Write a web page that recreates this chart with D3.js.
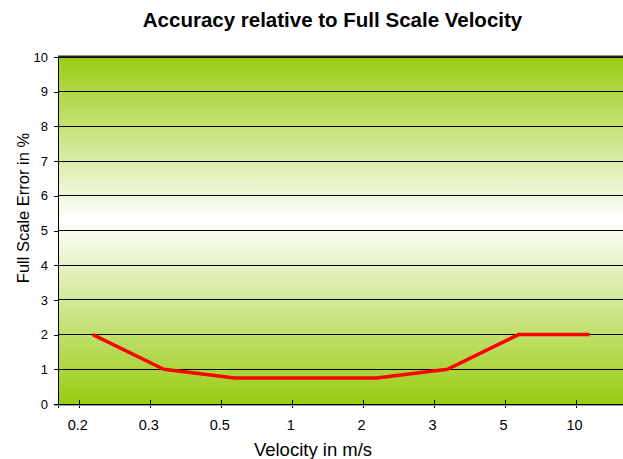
<!DOCTYPE html>
<html><head><meta charset="utf-8">
<script src="https://cdn.jsdelivr.net/npm/d3@7"></script>
<style>body{margin:0;background:#fff}svg{display:block;font-family:"Liberation Sans",Arial,sans-serif}</style>
</head><body><svg id="c" width="623" height="459"></svg>
<script>
const categories = ["0.2","0.3","0.5","1","2","3","5","10"];
const errorValues = [2, 1, 0.75, 0.75, 0.75, 1, 2, 2];
const yTicks = [0,1,2,3,4,5,6,7,8,9,10];
const title = "Accuracy relative to Full Scale Velocity";
const xTitle = "Velocity in m/s";
const yTitle = "Full Scale Error in %";

const svg = d3.select("#c");
const plot = {left:58, right:623, top:57, bottom:404};
const lineShift = 0.19; // fraction of a category step

const x = d3.scalePoint().domain(categories).range([79.3, 576]);
const step = x.step();
const y = d3.scaleLinear().domain([0,10]).range([plot.bottom, plot.top]);

const defs = svg.append("defs");
const g = defs.append("linearGradient").attr("id","bg").attr("x1",0).attr("y1",0).attr("x2",0).attr("y2",1);
g.append("stop").attr("offset","0%").attr("stop-color","#99cc11");
g.append("stop").attr("offset","47%").attr("stop-color","#ffffff");
g.append("stop").attr("offset","100%").attr("stop-color","#99cc11");

svg.append("rect").attr("x",plot.left).attr("y",plot.top).attr("width",plot.right-plot.left).attr("height",plot.bottom-plot.top).attr("fill","url(#bg)");

// gridlines
svg.append("g").selectAll("line").data(yTicks.filter(d=>d>0)).join("line")
  .attr("x1",plot.left).attr("x2",plot.right).attr("y1",d=>y(d)).attr("y2",d=>y(d))
  .attr("stroke","#000").attr("stroke-width",1).attr("shape-rendering","crispEdges");
svg.append("line").attr("x1",plot.left).attr("x2",plot.right).attr("y1",plot.top-0.5).attr("y2",plot.top-0.5)
  .attr("stroke","#222").attr("stroke-width",2);

// y axis
const ya = svg.append("g").attr("transform",`translate(${plot.left},0)`)
  .call(d3.axisLeft(y).tickValues(yTicks).tickSize(4).tickPadding(6).tickFormat(d3.format("d")));
ya.select(".domain").remove();
ya.selectAll("line").attr("shape-rendering","crispEdges");
ya.selectAll("text").attr("font-size",13).attr("fill","#000").attr("font-family","Liberation Sans, Arial, sans-serif");
svg.append("line").attr("x1",plot.left).attr("x2",plot.left).attr("y1",plot.top).attr("y2",plot.bottom+4)
  .attr("stroke","#000").attr("shape-rendering","crispEdges");

// x axis
const xa = svg.append("g").attr("transform",`translate(0,${plot.bottom})`)
  .call(d3.axisBottom(x).tickSize(4).tickPadding(12));
xa.select(".domain").remove();
xa.selectAll(".tick line").attr("y1",-4).attr("y2",4).attr("shape-rendering","crispEdges");
xa.selectAll("text").attr("font-size",14.5).attr("fill","#000").attr("font-family","Liberation Sans, Arial, sans-serif")
  .attr("dx",-2).attr("dy",0).attr("y",26);
svg.append("line").attr("x1",plot.left-4).attr("x2",plot.right).attr("y1",plot.bottom+1).attr("y2",plot.bottom+1)
  .attr("stroke","#999").attr("shape-rendering","crispEdges");
svg.append("line").attr("x1",plot.left-4).attr("x2",plot.right).attr("y1",plot.bottom).attr("y2",plot.bottom)
  .attr("stroke","#000").attr("shape-rendering","crispEdges");

// line
const line = d3.line().x((d,i)=>x(categories[i]) + lineShift*step).y(d=>y(d));
svg.append("path").datum(errorValues).attr("d",line).attr("fill","none")
  .attr("stroke","#ff0000").attr("stroke-width",3.5).attr("stroke-linejoin","round");

// titles
svg.append("text").attr("x",332.5).attr("y",27).attr("text-anchor","middle")
  .attr("font-size",20.5).attr("font-weight","bold").text(title);
svg.append("text").attr("x",313).attr("y",456).attr("text-anchor","middle")
  .attr("font-size",18.5).text(xTitle);
svg.append("text").attr("transform","translate(28.5,208) rotate(-90)").attr("text-anchor","middle")
  .attr("font-size",16.5).text(yTitle);
</script></body></html>
